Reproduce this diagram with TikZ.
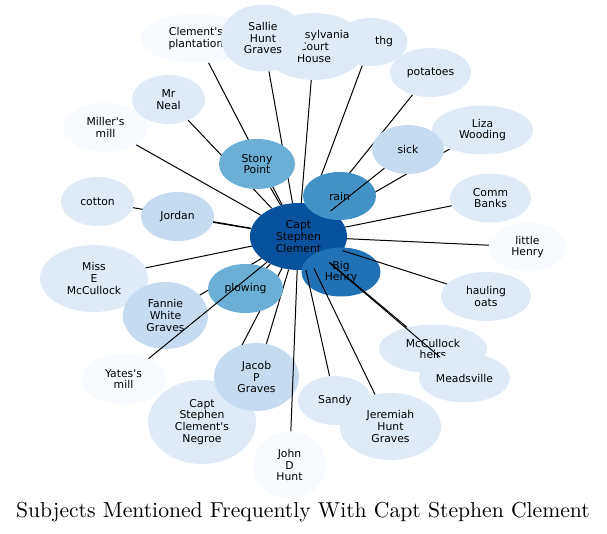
\documentclass[tikz,border=0pt]{standalone}
\usepackage{fontspec}
\newfontfamily\labelfont{DejaVu Sans}
\definecolor{blues1}{HTML}{F7FBFF}
\definecolor{blues2}{HTML}{DEEBF7}
\definecolor{blues3}{HTML}{C6DBEF}
\definecolor{blues5}{HTML}{6BAED6}
\definecolor{blues6}{HTML}{4292C6}
\definecolor{blues7}{HTML}{2171B5}
\definecolor{blues8}{HTML}{08519C}
\usetikzlibrary{shapes.geometric,backgrounds}
\tikzset{
  topic/.style={ellipse, draw=none, inner sep=0pt, align=center, text=black,
    font=\labelfont\fontsize{10.8}{11.8}\selectfont},
  oval/.style 2 args={minimum width=#1pt, minimum height=#2pt},
  link/.style={black, line width=1pt},
}

\begin{document}
\begin{tikzpicture}[x=1pt, y=-1pt]
    \useasboundingbox (0,0) rectangle (607,534);

    % Outer ring of subjects (later nodes cover earlier ones)
    \node[topic, oval={85}{49}, fill=blues1] (millers) at (105.5,127.5) {Miller's\\mill};
    \node[topic, oval={73}{49}, fill=blues2] (mrneal) at (168.5,99.5) {Mr\\Neal};
    \node[topic, oval={112}{49}, fill=blues1] (plantation) at (196,38.5) {Clement's\\plantation};
    \node[topic, oval={73}{48}, fill=blues2] (thg) at (371,42) {\hspace*{26pt}thg};
    \node[topic, oval={104}{67}, fill=blues2] (courthouse) at (314,46.5) {Pennsylvania\\Court\\House};
    \node[topic, oval={84}{67}, fill=blues2] (sallie) at (263,38) {Sallie\\Hunt\\Graves};
    \node[topic, oval={81}{49}, fill=blues2] (potatoes) at (430.5,72.5) {potatoes};
    \node[topic, oval={101}{49}, fill=blues2] (liza) at (482.5,130) {Liza\\Wooding};
    \node[topic, oval={72}{49}, fill=blues3] (sick) at (408,149.5) {sick};
    \node[topic, oval={81}{49}, fill=blues2] (banks) at (490.5,198) {Comm\\Banks};
    \node[topic, oval={77}{49}, fill=blues1] (littlehenry) at (527.5,247) {little\\Henry};
    \node[topic, oval={90}{49}, fill=blues2] (oats) at (486,296.5) {hauling\\oats};
    \node[topic, oval={108}{49}, fill=blues2] (heirs) at (433,349) {McCullock\\heirs};
    \node[topic, oval={91}{49}, fill=blues2] (meadsville) at (464.5,378) {Meadsville};
    \node[topic, oval={74}{49}, fill=blues2] (sandy) at (335,400.5) {Sandy};
    \node[topic, oval={101}{67}, fill=blues2] (jeremiah) at (390.5,426.5) {Jeremiah\\Hunt\\Graves};
    \node[topic, oval={85}{50}, fill=blues1] (yates) at (123.5,379) {Yates's\\mill};
    \node[topic, oval={108}{84}, fill=blues2] (negroe) at (202,422) {Capt\\Stephen\\Clement's\\Negroe};
    \node[topic, oval={73}{67}, fill=blues1] (johnd) at (289.5,465) {John\\D\\Hunt};
    \node[topic, oval={85}{68}, fill=blues3] (jacob) at (256.5,377) {Jacob\\P\\Graves};
    \node[topic, oval={108}{67}, fill=blues2] (misse) at (94,278.5) {Miss\\E\\McCullock};
    \node[topic, oval={85}{67}, fill=blues3] (fannie) at (165.5,315.5) {Fannie\\White\\Graves};
    \node[topic, oval={73}{49}, fill=blues2] (cotton) at (97.5,201.5) {cotton};
    \node[topic, oval={73}{49}, fill=blues3] (jordan) at (177.5,216.5) {Jordan};
    \node[topic, oval={76}{50}, fill=blues5] (stony) at (257,164) {Stony\\Point};

    % Centre and its closest subjects
    \node[topic, oval={97}{67}, fill=blues8] (capt) at (298.5,236.5) {Capt\\Stephen\\Clement};
    \node[topic, oval={73}{48}, fill=blues6] (rain) at (339.5,196) {rain};
    \node[topic, oval={79}{49}, fill=blues7] (bighenry) at (341,272) {Big\\Henry};
    \node[topic, oval={75}{49}, fill=blues5] (plowing) at (245.5,288.5) {plowing};

    % Links lying under the nodes
    \begin{pgfonlayer}{background}
      \foreach \n in {millers,mrneal,plantation,thg,courthouse,sallie,potatoes,
                      liza,banks,littlehenry,negroe,jacob,misse,fannie,cotton,
                      jordan,stony,rain,bighenry,plowing}
        \draw[link] (capt) -- (\n);
    \end{pgfonlayer}

    % Links drawn over the nodes
    \foreach \n in {sick,oats,heirs,meadsville,sandy,jeremiah,yates,johnd}
      \draw[link] (capt) -- (\n);

    % Title
    \node[inner sep=0pt] (title) at (303,512)
      {\scalebox{2.165}{\fontsize{10}{12}\selectfont Subjects Mentioned Frequently With Capt Stephen Clement}};
\end{tikzpicture}
\end{document}
